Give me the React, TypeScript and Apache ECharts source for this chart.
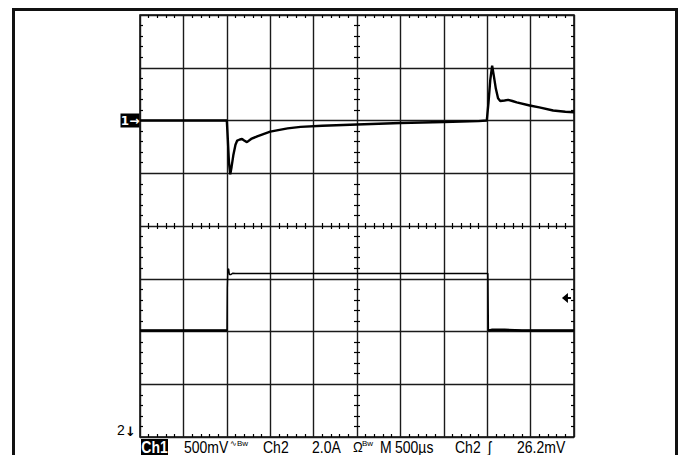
import React, { useEffect, useRef } from "react";
import * as echarts from "echarts";

// Horizontal scale: 500 µs / div, 10 divisions
const TIME_MIN = 0;
const TIME_MAX = 5000;
const TIME_PER_DIV = 500;
// Vertical scale in graticule divisions
const DIV_MIN = -4;
const DIV_MAX = 4;

// Channel 1: 500 mV/div, ground marker at +2 div
const ch1VoltsPerDiv = 0.5;
const ch1OffsetDiv = 2;
const ch1Time = [0, 1000, 1012, 1025, 1040, 1055, 1075, 1100, 1120, 1150, 1175, 1200, 1232, 1280, 1350, 1500, 1700, 1850, 2100, 2500, 3000, 3500, 3900, 3995, 4015, 4035, 4057, 4075, 4100, 4125, 4150, 4200, 4240, 4290, 4340, 4490, 4600, 4760, 4900, 5000];
const ch1Volts = [0, 0, -0.18, -0.4, -0.51, -0.44, -0.33, -0.23, -0.19, -0.18, -0.175, -0.19, -0.205, -0.175, -0.15, -0.105, -0.075, -0.06, -0.05, -0.038, -0.024, -0.014, -0.006, 0, 0.17, 0.38, 0.52, 0.43, 0.3, 0.21, 0.185, 0.19, 0.196, 0.185, 0.172, 0.142, 0.124, 0.095, 0.083, 0.078];

// Channel 2: 2.0 A/div, low level at -1.98 div
const ch2AmpsPerDiv = 2.0;
const ch2OffsetDiv = -1.98;
const ch2Time = [0, 1002, 1006, 1012, 1021, 1030, 1045, 1070, 1100, 4008, 4014, 4050, 4200, 4400, 5000];
const ch2Amps = [0, 0, 1.6, 2.3, 2.34, 2.12, 2.12, 2.17, 2.16, 2.16, 0, 0.02, 0.02, 0, 0];

// Trigger level marker (Ch2)
const triggerTime = 4913;
const triggerAmps = 1.23;

// Status line
const statusTexts = ["500mV", "\u223FBw", "Ch2", "2.0A", "\u03A9", "Bw", "M", "500\u00B5s", "Ch2", "\u0283", "26.2mV"];
const statusX = [184, 230, 263, 312, 353, 362, 380, 395, 455, 488, 517];
const statusSize = [14, 8, 14, 14, 13, 8, 14, 14, 14, 14, 14];

export default function App() {
  const ref = useRef<HTMLDivElement>(null);

  useEffect(() => {
    const chart = echarts.init(ref.current!, null, { renderer: "svg" });

    const ch1Data = ch1Time.map((t, i) => [t, ch1Volts[i] / ch1VoltsPerDiv + ch1OffsetDiv]);
    const ch2Data = ch2Time.map((t, i) => [t, ch2Amps[i] / ch2AmpsPerDiv + ch2OffsetDiv]);
    const ch2LowData = ch2Time.map((t, i) => (ch2Amps[i] < 0.5 ? [t, ch2Amps[i] / ch2AmpsPerDiv + ch2OffsetDiv] : [t, null]));

    const gridW = 434;
    const gridH = 422;

    const minorTick = { show: true, splitNumber: 5, length: 3, lineStyle: { color: "#000", width: 1.2 } };
    const xBase = (position: string, offset: number, inside: boolean, split: boolean) => ({
      type: "value",
      gridIndex: 0,
      position,
      offset,
      min: TIME_MIN,
      max: TIME_MAX,
      interval: TIME_PER_DIV,
      axisLabel: { show: false },
      axisLine: { show: false, onZero: false },
      axisTick: { show: false, inside },
      minorTick,
      splitLine: { show: split, lineStyle: { color: "#1a1a1a", width: 1.4 } },
    });
    const yBase = (position: string, offset: number, inside: boolean, split: boolean) => ({
      type: "value",
      gridIndex: 0,
      position,
      offset,
      min: DIV_MIN,
      max: DIV_MAX,
      interval: 1,
      axisLabel: { show: false },
      axisLine: { show: false, onZero: false },
      axisTick: { show: false, inside },
      minorTick,
      splitLine: { show: split, lineStyle: { color: "#1a1a1a", width: 1.4 } },
    });

    const textFont = "Liberation Sans, Arial, sans-serif";
    const arrowFont = "DejaVu Sans, sans-serif";
    const graphics: any[] = [
      {
        type: "rect",
        shape: { x: 13.5, y: 9.5, width: 663, height: 470 },
        style: { fill: "none", stroke: "#111", lineWidth: 3 },
        silent: true,
      },
      {
        type: "rect",
        shape: { x: 141, y: 439, width: 27, height: 16 },
        style: { fill: "#000" },
      },
      {
        type: "text",
        x: 154.5,
        y: 447,
        scaleY: 1.15,
        style: { text: "Ch1", fill: "#fff", font: "bold 14px " + textFont, align: "center", verticalAlign: "middle" },
      },
      {
        type: "text",
        x: 117,
        y: 430,
        style: { text: "2", fill: "#000", font: "14px " + textFont, align: "left", verticalAlign: "middle" },
      },
      {
        type: "text",
        x: 125,
        y: 431,
        style: { text: "\u2193", fill: "#000", font: "bold 13px " + arrowFont, align: "left", verticalAlign: "middle" },
      },
    ];
    statusTexts.forEach((t, i) => {
      const small = statusSize[i] < 12;
      graphics.push({
        type: "text",
        x: statusX[i],
        y: small ? 443 : 447,
        scaleY: small ? 1 : 1.15,
        style: { text: t, fill: "#000", font: statusSize[i] + "px " + textFont, align: "left", verticalAlign: "middle" },
      });
    });

    chart.setOption({
      animation: false,
      backgroundColor: "#fff",
      grid: {
        left: 140,
        top: 15,
        width: gridW,
        height: gridH,
        show: true,
        borderColor: "#000",
        borderWidth: 1.5,
        backgroundColor: "transparent",
      },
      xAxis: [
        xBase("bottom", 0, true, true),
        xBase("top", 0, true, false),
        xBase("bottom", -gridH / 2, true, false),
        xBase("bottom", -gridH / 2, false, false),
      ],
      yAxis: [
        yBase("left", 0, true, true),
        yBase("right", 0, true, false),
        yBase("left", -gridW / 2, true, false),
        yBase("left", -gridW / 2, false, false),
      ],
      series: [
        {
          type: "line",
          name: "Ch1",
          xAxisIndex: 0,
          yAxisIndex: 0,
          data: ch1Data,
          showSymbol: false,
          symbol: "none",
          lineStyle: { color: "#000", width: 2.4 },
          markPoint: {
            silent: true,
            data: [
              {
                coord: [TIME_MIN, ch1OffsetDiv],
                symbol: "rect",
                symbolSize: [19, 14],
                symbolOffset: [-10, 0],
                itemStyle: { color: "#000" },
                label: { show: true, position: "inside", formatter: "1\u2192", color: "#fff", fontSize: 12, fontWeight: "bold", fontFamily: arrowFont },
              },
            ],
          },
        },
        {
          type: "line",
          name: "Ch2",
          xAxisIndex: 0,
          yAxisIndex: 0,
          data: ch2Data,
          showSymbol: false,
          symbol: "none",
          lineStyle: { color: "#000", width: 1.4 },
          markPoint: {
            silent: true,
            data: [
              {
                coord: [triggerTime, triggerAmps / ch2AmpsPerDiv + ch2OffsetDiv],
                symbol: "path://M0,5 L6,0 L6,4 L9,4 L9,6 L6,6 L6,10 Z",
                symbolSize: [9, 10],
                itemStyle: { color: "#000" },
                label: { show: false },
              },
            ],
          },
        },
        {
          type: "line",
          name: "Ch2 low",
          xAxisIndex: 0,
          yAxisIndex: 0,
          data: ch2LowData,
          connectNulls: false,
          showSymbol: false,
          symbol: "none",
          lineStyle: { color: "#000", width: 2.6 },
        },
      ],
      graphic: graphics,
    });

    return () => chart.dispose();
  }, []);

  return (
    <div
      ref={ref}
      style={{ position: "fixed", left: 0, top: 0, width: 681, height: 455, background: "#fff" }}
    />
  );
}
